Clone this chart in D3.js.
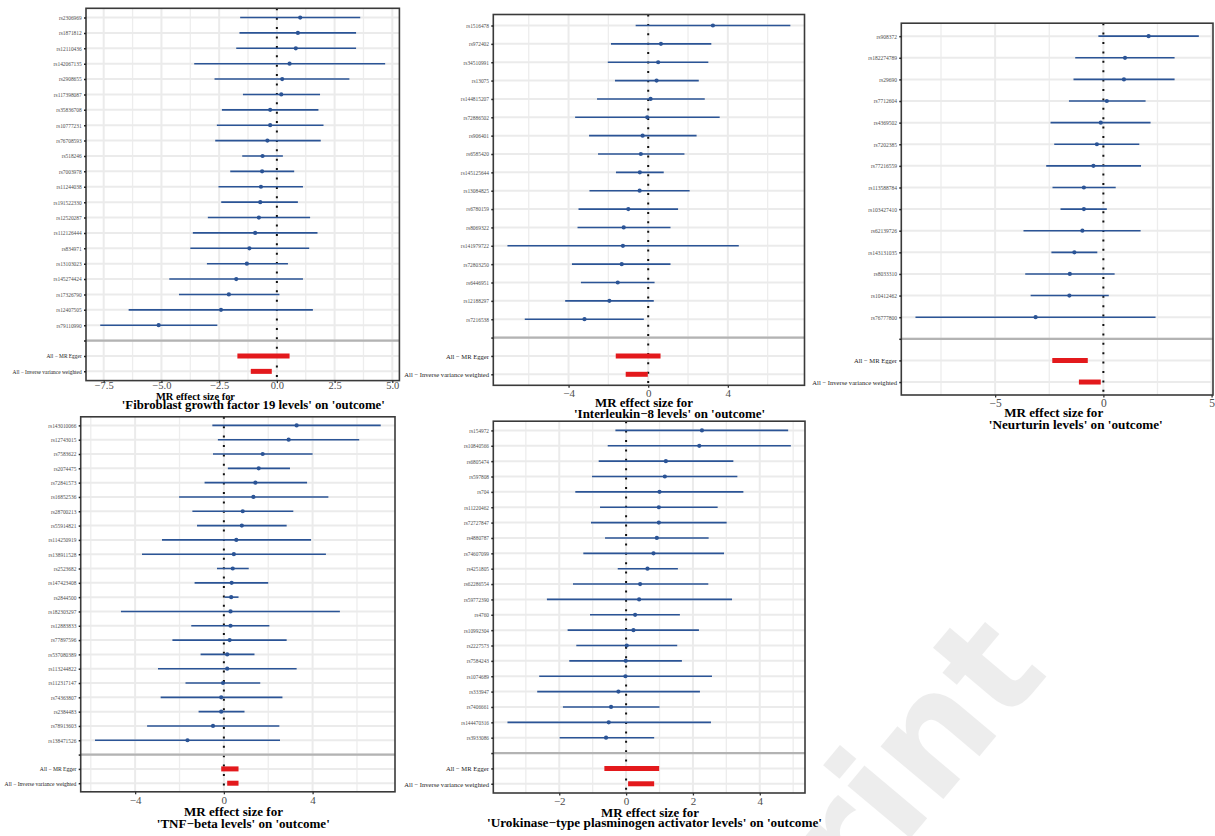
<!DOCTYPE html>
<html><head><meta charset="utf-8">
<script src="https://cdn.jsdelivr.net/npm/d3@7"></script>
<style>body{margin:0;background:#fff;} svg{display:block;}</style>
</head><body>
<svg id="chart" width="1215" height="836"></svg>
<script>
const summaryLabels = ["All \u2212 MR Egger", "All \u2212 Inverse variance weighted"];
const outcomeName = "outcome";

// Panel 1
const exposure1 = "Fibroblast growth factor 19 levels";
const snps1 = ["rs2306969","rs1871812","rs12110436","rs142067135","rs2908655","rs117398087","rs35836708","rs10777231","rs76708593","rs518246","rs7003978","rs11244038","rs191522330","rs12520287","rs112126444","rs834971","rs13103023","rs145274424","rs17326790","rs12407505","rs79110990"];
const b1  = [1.01,0.91,0.82,0.55,0.23,0.19,-0.29,-0.29,-0.41,-0.62,-0.64,-0.69,-0.72,-0.78,-0.94,-1.19,-1.30,-1.76,-2.08,-2.42,-5.12];
const lo1 = [-1.59,-1.62,-1.76,-3.58,-2.70,-1.47,-2.38,-2.60,-2.67,-1.50,-2.02,-2.53,-2.41,-2.99,-3.64,-3.75,-3.03,-4.66,-4.24,-6.42,-7.65];
const hi1 = [3.61,3.43,3.43,4.69,3.14,1.87,1.80,2.02,1.90,0.26,0.75,1.13,0.91,1.44,1.76,1.40,0.48,1.13,0.11,1.56,-2.58];
const sumLo1 = [-1.71,-1.13];
const sumHi1 = [0.55,-0.22];
const ticks1 = [-7.5,-5,-2.5,0,2.5,5];
const tickLabels1 = ["\u22127.5","\u22125.0","\u22122.5","0.0","2.5","5.0"];
const minor1 = [-6.25,-3.75,-1.25,1.25,3.75];

// Panel 2
const exposure2 = "Interleukin\u22128 levels";
const snps2 = ["rs1516478","rs972402","rs34510991","rs13075","rs144815207","rs72886502","rs906401","rs6585420","rs145125644","rs13084825","rs6780159","rs8069322","rs141979722","rs72803250","rs6446951","rs12188297","rs7216538"];
const b2  = [3.25,0.64,0.50,0.42,0.12,-0.05,-0.28,-0.37,-0.42,-0.43,-1.0,-1.23,-1.27,-1.33,-1.53,-1.95,-3.2];
const lo2 = [-0.63,-1.87,-2.03,-1.67,-2.57,-3.67,-2.97,-2.52,-1.62,-2.95,-3.5,-3.55,-7.07,-3.83,-3.38,-4.17,-6.2];
const hi2 = [7.14,3.17,3.02,2.54,2.84,3.59,2.43,1.82,0.78,2.08,1.5,1.12,4.55,1.12,0.32,0.28,-0.22];
const sumLo2 = [-1.63,-1.13];
const sumHi2 = [0.62,-0.02];
const ticks2 = [-4,0,4];
const tickLabels2 = ["\u22124","0","4"];
const minor2 = [-6,-2,2,6];

// Panel 3
const exposure3 = "Neurturin levels";
const snps3 = ["rs908372","rs182274789","rs29690","rs7712604","rs4369502","rs7202385","rs77216559","rs113588784","rs103427410","rs62139726","rs143131035","rs8033310","rs10412462","rs76777800"];
const b3  = [2.09,1.0,0.95,0.16,-0.12,-0.30,-0.46,-0.90,-0.90,-0.97,-1.34,-1.55,-1.57,-3.13];
const lo3 = [-0.23,-1.30,-1.38,-1.59,-2.44,-2.27,-2.64,-2.35,-1.98,-3.69,-2.40,-3.61,-3.36,-8.68];
const hi3 = [4.41,3.29,3.29,1.95,2.18,1.66,1.74,0.57,0.16,1.72,-0.28,0.52,0.25,2.41];
const sumLo3 = [-2.36,-1.13];
const sumHi3 = [-0.72,-0.12];
const ticks3 = [-5,0,5];
const tickLabels3 = ["\u22125","0","5"];
const minor3 = [-7.5,-2.5,2.5];

// Panel 4
const exposure4 = "TNF\u2212beta levels";
const snps4 = ["rs143010066","rs12743015","rs7583622","rs2074475","rs72841573","rs16852536","rs28700213","rs55914821","rs114250919","rs138911528","rs2523682","rs147423408","rs2844500","rs182303297","rs12883833","rs77897596","rs537080389","rs113244822","rs112317147","rs74363807","rs2384483","rs78913603","rs138471526"];
const b4  = [3.28,2.92,1.75,1.57,1.42,1.33,0.85,0.81,0.56,0.45,0.40,0.35,0.33,0.30,0.30,0.26,0.15,0.15,-0.04,-0.12,-0.12,-0.49,-1.64];
const lo4 = [-0.52,-0.27,-0.49,0.18,-0.87,-2.02,-1.42,-1.21,-2.79,-3.69,-0.31,-1.32,0.03,-4.64,-1.47,-2.32,-1.05,-2.97,-1.73,-2.85,-1.14,-3.46,-5.81];
const hi4 = [7.07,6.10,4.0,2.98,3.75,4.71,3.13,2.83,3.93,4.60,1.12,2.0,0.66,5.23,2.05,2.83,1.38,3.28,1.64,2.64,0.93,2.50,2.53];
const sumLo4 = [-0.12,0.15];
const sumHi4 = [0.66,0.66];
const ticks4 = [-4,0,4];
const tickLabels4 = ["\u22124","0","4"];
const minor4 = [-6,-2,2,6];

// Panel 5
const exposure5 = "Urokinase\u2212type plasminogen activator levels";
const snps5 = ["rs154972","rs10840566","rs6805474","rs597808","rs704","rs11220462","rs72727847","rs4880787","rs74607099","rs4251805","rs62286554","rs59772390","rs4760","rs10992304","rs2227573","rs7584243","rs1074689","rs333947","rs7406661","rs144470316","rs3933086"];
const b5  = [2.27,2.19,1.19,1.16,1.0,0.98,0.98,0.92,0.82,0.64,0.42,0.39,0.27,0.22,0.02,-0.01,-0.02,-0.23,-0.45,-0.52,-0.60];
const lo5 = [-0.32,-0.55,-0.82,-1.02,-1.52,-0.78,-1.05,-0.63,-1.28,-0.25,-1.59,-2.37,-1.08,-1.75,-1.49,-1.70,-2.60,-2.66,-1.89,-3.55,-1.99];
const hi5 = [4.85,4.93,3.21,3.33,3.51,2.74,3.01,2.47,2.93,1.55,2.46,3.17,1.61,2.18,1.53,1.67,2.57,2.21,1.0,2.54,0.84];
const sumLo5 = [-0.65,0.06];
const sumHi5 = [0.99,0.84];
const ticks5 = [-2,0,2,4];
const tickLabels5 = ["\u22122","0","2","4"];
const minor5 = [-3,-1,1,3,5];

const panels = [
  {exposure: exposure1, snps: snps1, b: b1, lo: lo1, hi: hi1, sumLo: sumLo1, sumHi: sumHi1, ticks: ticks1, tickLabels: tickLabels1, minor: minor1},
  {exposure: exposure2, snps: snps2, b: b2, lo: lo2, hi: hi2, sumLo: sumLo2, sumHi: sumHi2, ticks: ticks2, tickLabels: tickLabels2, minor: minor2},
  {exposure: exposure3, snps: snps3, b: b3, lo: lo3, hi: hi3, sumLo: sumLo3, sumHi: sumHi3, ticks: ticks3, tickLabels: tickLabels3, minor: minor3},
  {exposure: exposure4, snps: snps4, b: b4, lo: lo4, hi: hi4, sumLo: sumLo4, sumHi: sumHi4, ticks: ticks4, tickLabels: tickLabels4, minor: minor4},
  {exposure: exposure5, snps: snps5, b: b5, lo: lo5, hi: hi5, sumLo: sumLo5, sumHi: sumHi5, ticks: ticks5, tickLabels: tickLabels5, minor: minor5}
];

// layout (pixel geometry, styles)
const layouts = [
  {left: 86, right: 399.4, top: 8.3, bottom: 380.6, tickDy: 8, tickFs: 10.5, snpFs: 5.4, sumFs: 5.4,
   t1: {x: 195.5, y: 399.7, w: 79, fs: 11}, t2: {x: 253.3, y: 408.5, w: 263, fs: 12}},
  {left: 493.3, right: 804.5, top: 14.5, bottom: 385.3, tickDy: 11.5, tickFs: 11, snpFs: 5.4, sumFs: 6.6,
   t1: {x: 644, y: 407.3, w: 98, fs: 12.5}, t2: {x: 669.5, y: 417.8, w: 191, fs: 12.5}},
  {left: 901.3, right: 1213, top: 23.2, bottom: 395, tickDy: 11.5, tickFs: 11.5, snpFs: 5.5, sumFs: 6.6,
   t1: {x: 1053.7, y: 417.3, w: 99, fs: 12.5}, t2: {x: 1075.8, y: 428.8, w: 174, fs: 12.5}},
  {left: 80.7, right: 395, top: 416.8, bottom: 791.8, tickDy: 12, tickFs: 11, snpFs: 5.4, sumFs: 5.6,
   t1: {x: 233.5, y: 816.2, w: 99, fs: 12.5}, t2: {x: 243.3, y: 827.8, w: 173, fs: 12.5}},
  {left: 493.3, right: 805, top: 421.2, bottom: 793, tickDy: 11.7, tickFs: 11, snpFs: 5.3, sumFs: 6.6,
   t1: {x: 650, y: 816.5, w: 98, fs: 12.5}, t2: {x: 654.5, y: 826.5, w: 335, fs: 12.5}}
];

const BLUE = "#2b5496";
const RED = "#e3191c";
const SERIF = "'Liberation Serif','Times New Roman',serif";

const svg = d3.select("#chart");
svg.append("rect").attr("width", 1215).attr("height", 836).attr("fill", "#fff");

function drawPanel(p, L) {
  const g = svg.append("g");
  const rows = [...p.snps, "", ...summaryLabels];
  const y = d3.scalePoint().domain(rows).range([L.top, L.bottom]).padding(0.6);
  const all = p.lo.concat(p.hi, p.sumLo, p.sumHi);
  const [mn, mx] = d3.extent(all);
  const pad = 0.05 * (mx - mn);
  const x = d3.scaleLinear().domain([mn - pad, mx + pad]).range([L.left, L.right]);

  g.append("rect").attr("x", L.left).attr("y", L.top)
    .attr("width", L.right - L.left).attr("height", L.bottom - L.top).attr("fill", "#fff");

  // minor vertical grid
  g.selectAll(".vmin").data(p.minor).join("line")
    .attr("x1", d => x(d)).attr("x2", d => x(d)).attr("y1", L.top).attr("y2", L.bottom)
    .attr("stroke", "#ededed").attr("stroke-width", 1.3);
  // major vertical grid
  g.selectAll(".vmaj").data(p.ticks).join("line")
    .attr("x1", d => x(d)).attr("x2", d => x(d)).attr("y1", L.top).attr("y2", L.bottom)
    .attr("stroke", "#ebebeb").attr("stroke-width", 2);
  // horizontal grid
  g.selectAll(".hmaj").data(rows).join("line")
    .attr("x1", L.left).attr("x2", L.right).attr("y1", d => y(d)).attr("y2", d => y(d))
    .attr("stroke", "#ebebeb").attr("stroke-width", 2);

  // zero dotted line
  g.append("line").attr("x1", x(0)).attr("x2", x(0)).attr("y1", L.top).attr("y2", L.bottom)
    .attr("stroke", "#111").attr("stroke-width", 2).attr("stroke-dasharray", "2,7.4");

  // separator
  g.append("line").attr("x1", L.left).attr("x2", L.right).attr("y1", y("")).attr("y2", y(""))
    .attr("stroke", "#b3b3b3").attr("stroke-width", 2.2);

  // SNP error bars
  const idx = d3.range(p.snps.length);
  g.selectAll(".eb").data(idx).join("line")
    .attr("x1", i => x(p.lo[i])).attr("x2", i => x(p.hi[i]))
    .attr("y1", i => y(p.snps[i])).attr("y2", i => y(p.snps[i]))
    .attr("stroke", BLUE).attr("stroke-width", 1.6);
  g.selectAll(".pt").data(idx).join("circle")
    .attr("cx", i => x(p.b[i])).attr("cy", i => y(p.snps[i])).attr("r", 2.1)
    .attr("fill", BLUE);

  // summary bars
  g.selectAll(".sb").data([0, 1]).join("line")
    .attr("x1", i => x(p.sumLo[i])).attr("x2", i => x(p.sumHi[i]))
    .attr("y1", i => y(summaryLabels[i])).attr("y2", i => y(summaryLabels[i]))
    .attr("stroke", RED).attr("stroke-width", 5);

  // border
  g.append("rect").attr("x", L.left).attr("y", L.top)
    .attr("width", L.right - L.left).attr("height", L.bottom - L.top)
    .attr("fill", "none").attr("stroke", "#3a3a3a").attr("stroke-width", 1.6);

  // x axis
  const xa = g.append("g").attr("transform", `translate(0,${L.bottom})`)
    .call(d3.axisBottom(x).tickValues(p.ticks).tickFormat((d, i) => p.tickLabels[i]).tickSize(2.5).tickSizeOuter(0));
  xa.select(".domain").remove();
  xa.selectAll(".tick line").attr("stroke", "#333").attr("stroke-width", 1.3);
  xa.selectAll(".tick text").attr("y", L.tickDy).attr("dy", 0)
    .style("font-family", SERIF).style("font-size", L.tickFs + "px").attr("fill", "#4d4d4d");

  // y axis
  const ya = g.append("g").attr("transform", `translate(${L.left},0)`)
    .call(d3.axisLeft(y).tickSize(2).tickPadding(2.3));
  ya.select(".domain").remove();
  ya.selectAll(".tick line").attr("stroke", "#222").attr("stroke-width", 1.5);
  ya.selectAll(".tick text").attr("dy", "0.35em")
    .style("font-family", SERIF)
    .style("font-size", d => (summaryLabels.includes(d) ? L.sumFs : L.snpFs) + "px")
    .attr("fill", d => summaryLabels.includes(d) ? "#222" : "#4d4d4d");

  // axis title (two lines)
  g.append("text").attr("x", L.t1.x).attr("y", L.t1.y).attr("text-anchor", "middle")
    .attr("textLength", L.t1.w).attr("lengthAdjust", "spacingAndGlyphs")
    .style("font-family", SERIF).style("font-weight", "bold").style("font-size", L.t1.fs + "px")
    .text("MR effect size for");
  g.append("text").attr("x", L.t2.x).attr("y", L.t2.y).attr("text-anchor", "middle")
    .attr("textLength", L.t2.w).attr("lengthAdjust", "spacingAndGlyphs")
    .style("font-family", SERIF).style("font-weight", "bold").style("font-size", L.t2.fs + "px")
    .text(`'${p.exposure}' on '${outcomeName}'`);
}

panels.forEach((p, i) => drawPanel(p, layouts[i]));

// faint watermark
svg.append("text").attr("transform", "translate(1050,672) rotate(-50)")
  .attr("text-anchor", "end")
  .style("font-family", "'DejaVu Sans',sans-serif").style("font-weight", "bold").style("font-size", "150px")
  .attr("fill", "#000").attr("opacity", 0.065).text("Preprint");
</script>
</body></html>
